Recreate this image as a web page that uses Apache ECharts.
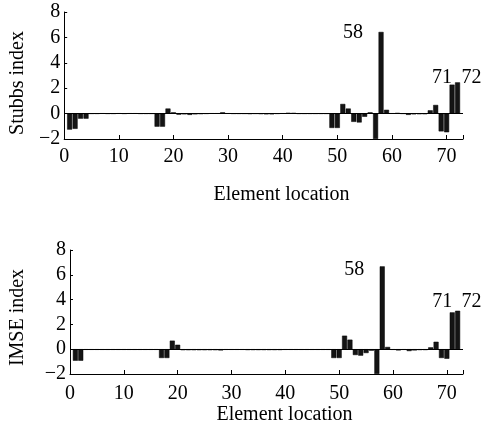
<!DOCTYPE html>
<html>
<head>
<meta charset="utf-8">
<script src="https://cdn.jsdelivr.net/npm/echarts@6/dist/echarts.min.js"></script>
<style>
  html, body { margin: 0; padding: 0; background: #fff; }
  #chart { width: 482px; height: 437px; }
</style>
</head>
<body>
<div id="chart"></div>
<script>
// element numbers 1..72
var elements = [];
for (var k = 1; k <= 72; k++) elements.push(k);

// Stubbs index per element
var stubbs = [
  -1.26, -1.2, -0.4, -0.4, 0, 0, 0.02, 0, 0, 0.02,
  0, 0.02, 0.02, 0, 0, 0, -1.03, -1.03, 0.4, 0.1,
  -0.08, -0.05, -0.1, -0.05, -0.02, 0, 0.02, 0.02, 0.1, 0.02,
  0, 0, 0, -0.02, 0, -0.02, -0.05, -0.05, 0, 0.02,
  0.06, 0.05, 0, 0, 0, 0, 0, 0, -1.13, -1.13,
  0.76, 0.4, -0.65, -0.7, -0.25, 0.1, -2, 6.43, 0.3, 0.02,
  0.05, 0, -0.1, -0.05, -0.03, -0.03, 0.26, 0.68, -1.4, -1.47,
  2.28, 2.46
];

// IMSE index per element
var imse = [
  -0.93, -0.93, -0.05, -0.05, -0.05, -0.05, -0.05, -0.05, -0.05, -0.05,
  -0.05, -0.05, -0.05, -0.05, -0.05, -0.05, -0.71, -0.71, 0.69, 0.36,
  -0.08, -0.08, -0.08, -0.08, -0.08, -0.08, -0.08, -0.1, -0.05, -0.05,
  -0.05, -0.05, -0.07, -0.07, -0.07, -0.07, -0.07, -0.07, -0.07, -0.05,
  -0.05, -0.05, -0.05, -0.05, -0.05, -0.05, -0.05, -0.05, -0.71, -0.71,
  1.09, 0.77, -0.47, -0.52, -0.31, -0.12, -2, 6.68, 0.18, -0.05,
  -0.1, -0.05, -0.15, -0.1, -0.07, -0.07, 0.15, 0.6, -0.71, -0.77,
  2.97, 3.1
];

var yTicks = [-2, 0, 2, 4, 6, 8];
var xTicks = [0, 10, 20, 30, 40, 50, 60, 70];
var annotated = [58, 71, 72];

var font = "'Liberation Serif', 'Times New Roman', serif";

// label offsets for the annotated elements, per chart
var labelOffsets = [
  { 58: [-28, 16], 71: [-10, 8], 72: [14, 10] },
  { 58: [-28, 18], 71: [-10, 4], 72: [14, 6] }
];

function buildData(values, offsets) {
  return elements.map(function (el, i) {
    var item = { value: [el, values[i]] };
    if (annotated.indexOf(el) >= 0) {
      item.label = {
        show: true,
        position: "top",
        offset: offsets[el],
        formatter: String(el),
        fontFamily: font,
        fontSize: 20,
        color: "#000"
      };
    }
    return item;
  });
}

function fmtMinus(v) {
  return String(v).replace("-", "\u2212");
}

function xAxisCfg(idx, labelMargin, nameGap) {
  return {
    type: "value",
    gridIndex: idx,
    min: 0,
    max: 73,
    interval: 10,
    name: "Element location",
    nameLocation: "middle",
    nameGap: nameGap,
    nameTextStyle: { fontFamily: font, fontSize: 20, color: "#000", padding: [0, 0, 0, 36] },
    axisLine: { onZero: false, lineStyle: { color: "#000", width: 1 } },
    axisTick: { inside: true, length: 4, lineStyle: { color: "#000" } },
    axisLabel: {
      margin: labelMargin,
      fontFamily: font,
      fontSize: 20,
      color: "#000",
      formatter: function (v) { return xTicks.indexOf(v) >= 0 ? String(v) : ""; }
    },
    splitLine: { show: false }
  };
}

function yAxisCfg(idx, name, nameGap, pad) {
  return {
    type: "value",
    gridIndex: idx,
    min: yTicks[0],
    max: yTicks[yTicks.length - 1],
    interval: 2,
    name: name,
    nameLocation: "middle",
    nameGap: nameGap,
    nameTextStyle: { fontFamily: font, fontSize: 20, color: "#000", padding: [0, pad, 0, 0] },
    axisLine: { show: true, lineStyle: { color: "#000", width: 1 } },
    axisTick: { inside: true, length: 3, lineStyle: { color: "#000" } },
    axisLabel: { margin: 4, fontFamily: font, fontSize: 20, color: "#000", formatter: fmtMinus },
    splitLine: { show: false }
  };
}

function barSeries(idx, values, offsets) {
  return {
    type: "bar",
    xAxisIndex: idx,
    yAxisIndex: idx,
    barWidth: 5,
    itemStyle: { color: "#141414", borderColor: "#000", borderWidth: 0.5 },
    data: buildData(values, offsets),
    markLine: {
      silent: true,
      symbol: "none",
      label: { show: false },
      lineStyle: { color: "#000", width: 1, type: "solid" },
      data: [{ yAxis: 0 }]
    },
    animation: false
  };
}

var chart = echarts.init(document.getElementById("chart"));
chart.setOption({
  animation: false,
  grid: [
    { left: 59, top: 12, width: 404, height: 127 },
    { left: 59, top: 250, width: 404, height: 124 }
  ],
  xAxis: [xAxisCfg(0, 8, 46), xAxisCfg(1, 10, 31)],
  yAxis: [yAxisCfg(0, "Stubbs index", 34, 15), yAxisCfg(1, "IMSE index", 42, 11)],
  series: [barSeries(0, stubbs, labelOffsets[0]), barSeries(1, imse, labelOffsets[1])]
});
</script>
</body>
</html>
